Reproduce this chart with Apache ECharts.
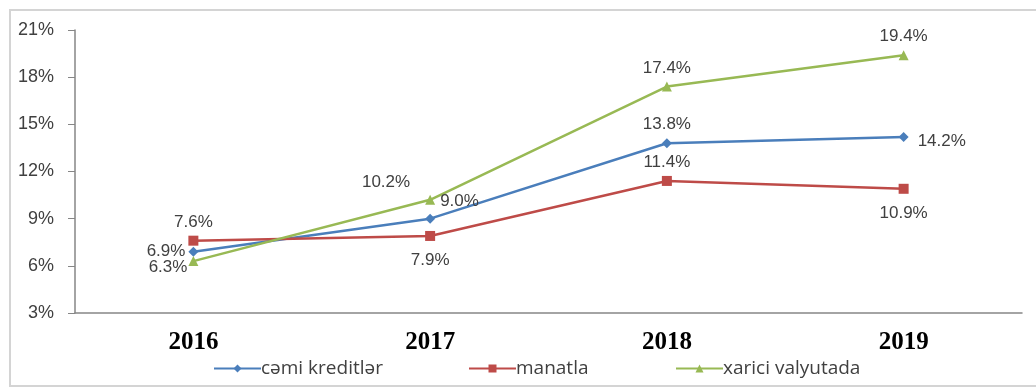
<!DOCTYPE html>
<html><head><meta charset="utf-8">
<script src="https://cdn.jsdelivr.net/npm/echarts@6/dist/echarts.min.js"></script>
<style>html,body{margin:0;padding:0;background:#fff}#c{width:1036px;height:390px}</style>
</head><body><div id="c"></div>
<script>
const categories = ['2016', '2017', '2018', '2019'];
const cemiKreditler = [6.9, 9.0, 13.8, 14.2];
const manatla = [7.6, 7.9, 11.4, 10.9];
const xariciValyutada = [6.3, 10.2, 17.4, 19.4];
const seriesNames = ['cəmi kreditlər', 'manatla', 'xarici valyutada'];
const yTicks = [3, 6, 9, 12, 15, 18, 21];

const labelBase = { show: true, color: '#404040', fontSize: 17, fontFamily: 'Liberation Sans', formatter: p => p.value.toFixed(1) + '%' };

function pts(values, positions) {
  return values.map((v, i) => ({ value: v, label: Object.assign({}, positions[i]) }));
}

const legendStyle = { bottom: 7, itemWidth: 47, itemHeight: 10, itemGap: 0,
  textStyle: { fontSize: 19, color: '#404040', fontFamily: 'Open Sans', padding: [0, 0, 0, -5] } };

const chart = echarts.init(document.getElementById('c'));
chart.setOption({
  animation: false,
  graphic: [{ type: 'rect', shape: { x: 10, y: 10, width: 1040, height: 376 }, style: { fill: 'none', stroke: '#d4d4d4', lineWidth: 2 }, silent: true }],
  grid: { left: 75, right: 14, top: 30, bottom: 77 },
  legend: [
    Object.assign({ left: 208, data: [seriesNames[0]] }, legendStyle),
    Object.assign({ left: 463, data: [seriesNames[1]] }, legendStyle),
    Object.assign({ left: 670, data: [seriesNames[2]] }, legendStyle)
  ],
  xAxis: {
    type: 'category', data: categories, boundaryGap: true,
    axisLine: { lineStyle: { color: '#868686', width: 1.5 } },
    axisTick: { show: false },
    axisLabel: { margin: 17, fontSize: 25, fontWeight: 'bold', color: '#000', fontFamily: 'Liberation Serif' }
  },
  yAxis: {
    type: 'value', min: 3, max: 21, interval: 3,
    axisLine: { show: true, lineStyle: { color: '#868686', width: 1.5 } },
    axisTick: { show: true, length: 7, lineStyle: { color: '#868686' } },
    splitLine: { show: false },
    axisLabel: { margin: 21, fontSize: 18, color: '#404040', fontFamily: 'Liberation Sans', formatter: v => v + '%' }
  },
  series: [
    {
      name: seriesNames[0], type: 'line', data: pts(cemiKreditler, [
        { position: 'left', offset: [2, 0] },
        { position: 'right', offset: [0, -17] },
        { position: 'top' },
        { position: 'right', offset: [4, 4] }
      ]),
      label: labelBase, symbol: 'diamond', symbolSize: 10,
      lineStyle: { color: '#4A7EBB', width: 2.5 }, itemStyle: { color: '#4A7EBB' }
    },
    {
      name: seriesNames[1], type: 'line', data: pts(manatla, [
        { position: 'top' },
        { position: 'bottom', offset: [0, 6] },
        { position: 'top' },
        { position: 'bottom', offset: [0, 6] }
      ]),
      label: labelBase, symbol: 'rect', symbolSize: 10,
      lineStyle: { color: '#BE4B48', width: 2.5 }, itemStyle: { color: '#BE4B48' }
    },
    {
      name: seriesNames[2], type: 'line', data: pts(xariciValyutada, [
        { position: 'left', offset: [4, 6] },
        { position: 'left', offset: [-10, -17] },
        { position: 'top' },
        { position: 'top' }
      ]),
      label: labelBase, symbol: 'triangle', symbolSize: 10,
      lineStyle: { color: '#98B954', width: 2.5 }, itemStyle: { color: '#98B954' }
    }
  ]
});
</script></body></html>
